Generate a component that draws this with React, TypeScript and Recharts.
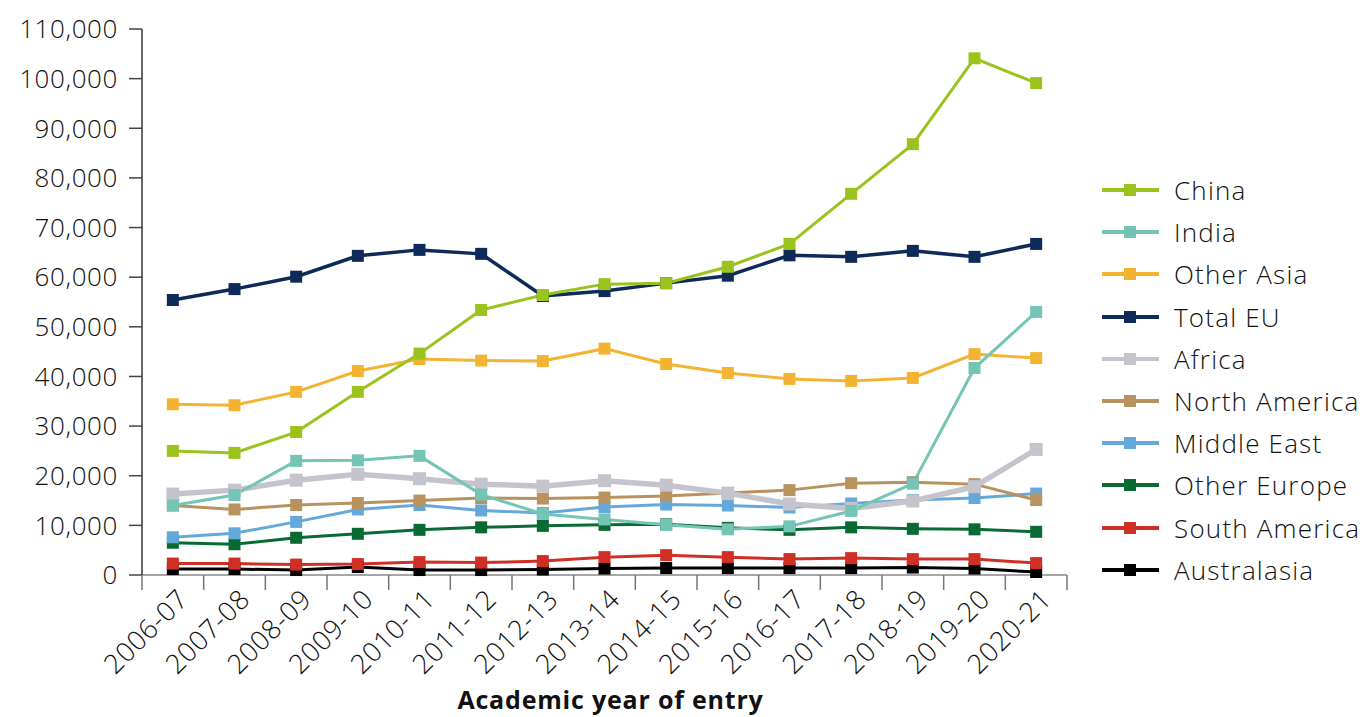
import React from 'react';
import { LineChart, Line, XAxis, YAxis, Legend } from 'recharts';

const years = ['2006-07', '2007-08', '2008-09', '2009-10', '2010-11', '2011-12', '2012-13', '2013-14', '2014-15', '2015-16', '2016-17', '2017-18', '2018-19', '2019-20', '2020-21'];

const china = [25000, 24600, 28800, 36900, 44600, 53400, 56400, 58600, 58800, 62100, 66700, 76800, 86800, 104100, 99100];
const india = [14000, 16100, 23000, 23100, 24000, 16200, 12300, 11200, 10100, 9200, 9800, 12900, 18400, 41700, 53000];
const otherAsia = [34400, 34200, 36900, 41100, 43500, 43200, 43100, 45600, 42500, 40700, 39500, 39100, 39700, 44500, 43700];
const totalEU = [55400, 57600, 60100, 64300, 65500, 64700, 56200, 57200, 58800, 60300, 64400, 64100, 65300, 64100, 66700];
const africa = [16300, 17100, 19100, 20300, 19400, 18300, 17900, 19000, 18100, 16500, 14300, 13400, 14900, 17800, 25300];
const northAmerica = [14000, 13200, 14100, 14500, 15000, 15500, 15400, 15600, 15900, 16500, 17100, 18500, 18700, 18300, 15100];
const middleEast = [7600, 8400, 10700, 13200, 14100, 13000, 12500, 13700, 14200, 14000, 13600, 14400, 15100, 15500, 16400];
const otherEurope = [6500, 6200, 7500, 8300, 9100, 9600, 9900, 10100, 10200, 9500, 9100, 9600, 9300, 9200, 8700];
const southAmerica = [2300, 2300, 2100, 2200, 2600, 2500, 2800, 3600, 4000, 3600, 3200, 3400, 3200, 3200, 2400];
const australasia = [1200, 1200, 1000, 1600, 1000, 1000, 1100, 1300, 1400, 1400, 1400, 1400, 1500, 1300, 600];

const yTicks = [0, 10000, 20000, 30000, 40000, 50000, 60000, 70000, 80000, 90000, 100000, 110000];

// legend order
const series = [
  { name: 'China', values: china, color: '#9bc31e', width: 3, size: 12 },
  { name: 'India', values: india, color: '#74c5b5', width: 3, size: 12 },
  { name: 'Other Asia', values: otherAsia, color: '#f3b433', width: 3, size: 12 },
  { name: 'Total EU', values: totalEU, color: '#0d2a58', width: 3.5, size: 12 },
  { name: 'Africa', values: africa, color: '#c5c4cd', width: 5.5, size: 13 },
  { name: 'North America', values: northAmerica, color: '#b9935f', width: 3, size: 12 },
  { name: 'Middle East', values: middleEast, color: '#65a9da', width: 3, size: 12 },
  { name: 'Other Europe', values: otherEurope, color: '#0a6a34', width: 3, size: 12 },
  { name: 'South America', values: southAmerica, color: '#d02f26', width: 3, size: 12 },
  { name: 'Australasia', values: australasia, color: '#000000', width: 3, size: 12 },
];

const data = years.map((year, i) => {
  const row: Record<string, any> = { year };
  series.forEach((s) => { row[s.name] = s.values[i]; });
  return row;
});

const W = 1370;
const H = 717;
const margin = { top: 29, right: 303, bottom: 0, left: 12 };
const Y_WIDTH = 130;
const PLOT_W = W - margin.left - margin.right - Y_WIDTH;
const BAND = PLOT_W / years.length;
const FONT = '"Open Sans", Lato, sans-serif';

const squareDot = (color: string, size: number) => (props: any) => {
  const { cx, cy, index } = props;
  if (cx == null || cy == null) return <g key={index} />;
  return <rect key={index} x={cx - size / 2} y={cy - size / 2} width={size} height={size} fill={color} />;
};

const XTick = (props: any) => {
  const { x, y, payload, index } = props;
  const half = BAND / 2;
  const tx = x + 17;
  const ty = y + 26;
  return (
    <g>
      <line x1={x - half} x2={x - half} y1={y} y2={y + 15} stroke="#777" strokeWidth={1.5} />
      {index === years.length - 1 && (
        <line x1={x + half} x2={x + half} y1={y} y2={y + 15} stroke="#777" strokeWidth={1.5} />
      )}
      <text
        x={tx}
        y={ty}
        textAnchor="end"
        transform={`rotate(-45, ${tx}, ${ty})`}
        fontSize={27}
        fontWeight={300}
        letterSpacing={0.6}
        fontFamily={FONT}
        fill="#111"
      >
        {payload.value}
      </text>
    </g>
  );
};

const LegendBox = () => (
  <div style={{ fontFamily: FONT }}>
    {series.map((s) => (
      <div key={s.name} style={{ display: 'flex', alignItems: 'center', height: 42.2 }}>
        <svg width={72} height={20}>
          <line x1={0} x2={57} y1={10} y2={10} stroke={s.color} strokeWidth={4} />
          <rect x={22} y={4} width={12} height={12} fill={s.color} />
        </svg>
        <span style={{ fontSize: 26, fontWeight: 300, letterSpacing: 1.2, color: '#111', whiteSpace: 'nowrap' }}>{s.name}</span>
      </div>
    ))}
  </div>
);

export default function App() {
  return (
    <div style={{ position: 'absolute', left: 0, top: 0, background: '#fff' }}>
      <LineChart width={W} height={H} data={data} margin={margin}>
        <XAxis
          dataKey="year"
          height={142}
          interval={0}
          tickLine={false}
          tickSize={0}
          tickMargin={0}
          padding={{ left: BAND / 2, right: BAND / 2 }}
          axisLine={{ stroke: '#888', strokeWidth: 1.5 }}
          tick={<XTick />}
          label={{
            value: 'Academic year of entry',
            position: 'insideBottom',
            offset: 8,
            dx: 6,
            style: { fontSize: 25, fontWeight: 700, letterSpacing: 0.8, fontFamily: FONT, fill: '#111' },
          }}
        />
        <YAxis
          width={Y_WIDTH}
          domain={[0, 110000]}
          ticks={yTicks}
          interval={0}
          tickSize={13}
          tickMargin={11}
          tickFormatter={(v: number) => v.toLocaleString('en-US')}
          axisLine={{ stroke: '#333', strokeWidth: 1.5 }}
          tickLine={{ stroke: '#444', strokeWidth: 1.5 }}
          tick={{ fontSize: 26, fontWeight: 300, letterSpacing: 0.6, fontFamily: FONT, fill: '#111' }}
        />
        <Legend
          layout="vertical"
          align="center"
          verticalAlign="middle"
          wrapperStyle={{ left: 1102, top: 169 }}
          content={<LegendBox />}
        />
        {[...series].reverse().map((s) => (
          <Line
            key={s.name}
            type="linear"
            dataKey={s.name}
            stroke={s.color}
            strokeWidth={s.width}
            dot={squareDot(s.color, s.size)}
            activeDot={false}
            isAnimationActive={false}
          />
        ))}
      </LineChart>
    </div>
  );
}
